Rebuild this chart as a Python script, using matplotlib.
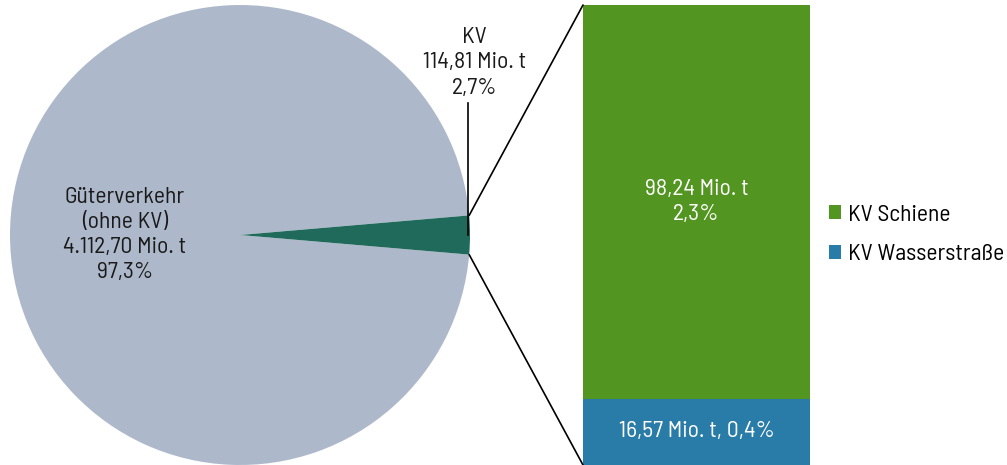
import numpy as np
import matplotlib
matplotlib.use("Agg")
import matplotlib.pyplot as plt
from matplotlib.patches import ConnectionPatch
from matplotlib.lines import Line2D

plt.rcParams['font.family'] = ['Barlow Semi Condensed', 'Roboto Condensed', 'DejaVu Sans']

# Tonnage in Mio. t
pie_labels = ['Güterverkehr\n(ohne KV)', 'KV']
pie_values = [4112.70, 114.81]
bar_labels = ['KV Schiene', 'KV Wasserstraße']
bar_values = [98.24, 16.57]

pie_colors = ['#adb9cb', '#1f6a5a']
bar_colors = ['#529520', '#2a7ca8']

total = sum(pie_values)
FS = 17


def de_num(v):
    s = f"{v:,.2f}"
    return s.replace(',', 'X').replace('.', ',').replace('X', '.')


def de_pct(v):
    return f"{v / total * 100:.1f}".replace('.', ',') + '%'


fig = plt.figure(figsize=(10.07, 4.65), dpi=100)

# pie on the left
ax1 = fig.add_axes([10 / 1007, 0, 460 / 1007, 460 / 465])
kv_angle = 360 * pie_values[1] / total
wedges, _ = ax1.pie(pie_values, colors=pie_colors, startangle=kv_angle / 2,
                    radius=1, wedgeprops=dict(linewidth=0))
ax1.set_xlim(-1, 1)
ax1.set_ylim(-1, 1)
ax1.set_aspect('equal')
ax1.axis('off')

ax1.text(-0.5, 0.0, f"{pie_labels[0]}\n{de_num(pie_values[0])} Mio. t\n{de_pct(pie_values[0])}",
         ha='center', va='center', fontsize=FS, color='#1a1a1a', linespacing=1.25)

# leader line and label for the KV slice
ax1.add_line(Line2D([0.99, 0.99], [0.0, 0.575], color='black', lw=1.2))
ax1.text(1.02, 0.59, f"{pie_labels[1]}\n{de_num(pie_values[1])} Mio. t\n{de_pct(pie_values[1])}",
         ha='center', va='bottom', fontsize=FS, color='#1a1a1a', linespacing=1.3)

# stacked bar on the right
ax2 = fig.add_axes([583 / 1007, 0, 227 / 1007, 460 / 465])
bottom = 0
stack = list(zip(bar_labels, bar_values, bar_colors))[::-1]
for lab, val, col in stack:
    ax2.bar(0, val, bottom=bottom, width=1, color=col, label=lab)
    bottom += val
ax2.set_xlim(-0.5, 0.5)
ax2.set_ylim(0, sum(bar_values))
ax2.axis('off')

ax2.text(0, bar_values[1] / 2, f"{de_num(bar_values[1])} Mio. t, {de_pct(bar_values[1])}",
         ha='center', va='center', color='white', fontsize=FS)
ax2.text(0, bar_values[1] + bar_values[0] / 2, f"{de_num(bar_values[0])} Mio. t\n{de_pct(bar_values[0])}",
         ha='center', va='center', color='white', fontsize=FS, linespacing=1.25)

handles, labels = ax2.get_legend_handles_labels()
ax2.legend(handles[::-1], labels[::-1], loc='center left', bbox_to_anchor=(1.0, 0.5),
           frameon=False, fontsize=FS, handlelength=0.5, handleheight=0.5,
           handletextpad=0.3, labelspacing=0.8, borderaxespad=0.4)

# connectors from the KV slice edges to the bar
theta1 = np.deg2rad(wedges[1].theta1)
theta2 = np.deg2rad(wedges[1].theta2)
for theta, yb in [(theta2, 1), (theta1, 0)]:
    con = ConnectionPatch(xyA=(np.cos(theta), np.sin(theta)), coordsA=ax1.transData,
                          xyB=(0, yb), coordsB=ax2.transAxes, color='black', lw=1.2)
    fig.add_artist(con)

fig.savefig('out.png', dpi=100)
